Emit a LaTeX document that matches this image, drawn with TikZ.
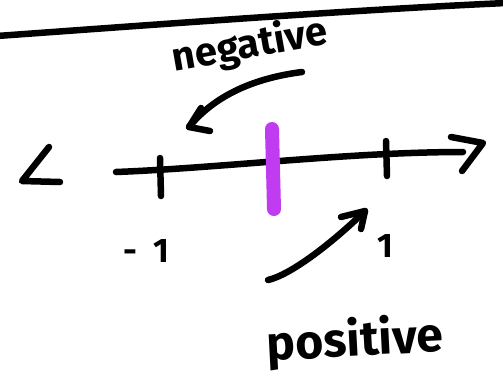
\documentclass[tikz,border=0pt]{standalone}
\usepackage{fontspec}
\setmainfont{Fira Sans}
\definecolor{ink}{HTML}{000000}
\definecolor{marker}{HTML}{C03CF0}
\begin{document}
\begin{tikzpicture}[x=1pt,y=-1pt,
  pen/.style={draw=ink,line width=6.5pt,line cap=round,line join=round},
  hand/.style={font=\fontsize{#1}{#1}\selectfont\bfseries,inner sep=0pt,text=ink}]
\useasboundingbox (0,0) rectangle (503,384);
% top rule
\coordinate (rl) at (-3,36);
\coordinate (rr) at (506,3);
\draw[pen] (rl) .. controls (150,25) and (350,10) .. (rr);
% number line
\coordinate (nl) at (116,172);
\coordinate (nr) at (463,152);
\draw[pen] (nl) .. controls (220,168) and (350,152) .. (nr);
\coordinate (ah1) at (451,137);
\coordinate (ah2) at (483,143);
\coordinate (ah3) at (462,171);
\draw[pen] (ah1) -- (ah2) -- (ah3);
% left angle mark
\coordinate (la1) at (49,147);
\coordinate (la2) at (22,181);
\coordinate (la3) at (60,182);
\draw[pen] (la1) -- (la2) -- (la3);
% ticks
\coordinate (t1a) at (160,158);
\coordinate (t1b) at (161,196);
\draw[pen] (t1a) -- (t1b);
\coordinate (t2a) at (386,141);
\coordinate (t2b) at (387,176);
\draw[pen] (t2a) -- (t2b);
% zero marker
\coordinate (za) at (272,129);
\coordinate (zb) at (274,209);
\draw[draw=marker,line width=14pt,line cap=round] (za) -- (zb);
% labels
\node[hand=34] (lm1) at (146,251) {-\hspace{16pt}1};
\node[hand=34] (lp1) at (385,246) {1};
% negative arrow
\node[hand=40,rotate=10] (neg) at (250,46) {negative};
\coordinate (ns) at (302,72);
\coordinate (ne) at (189,127);
\draw[pen] (ns) .. controls (255,78) and (215,95) .. (ne);
\coordinate (nh1) at (201,108);
\coordinate (nh2) at (210,131);
\draw[pen] (nh1) -- (ne) -- (nh2);
% positive arrow
\coordinate (ps) at (268,280);
\coordinate (pe) at (365,211);
\draw[pen] (ps) .. controls (290,275) and (330,245) .. (pe);
\coordinate (ph1) at (341,217);
\coordinate (ph2) at (361,229);
\draw[pen] (ph1) -- (pe) -- (ph2);
\node[hand=48,rotate=3] (pos) at (355,342) {positive};
\end{tikzpicture}
\end{document}
